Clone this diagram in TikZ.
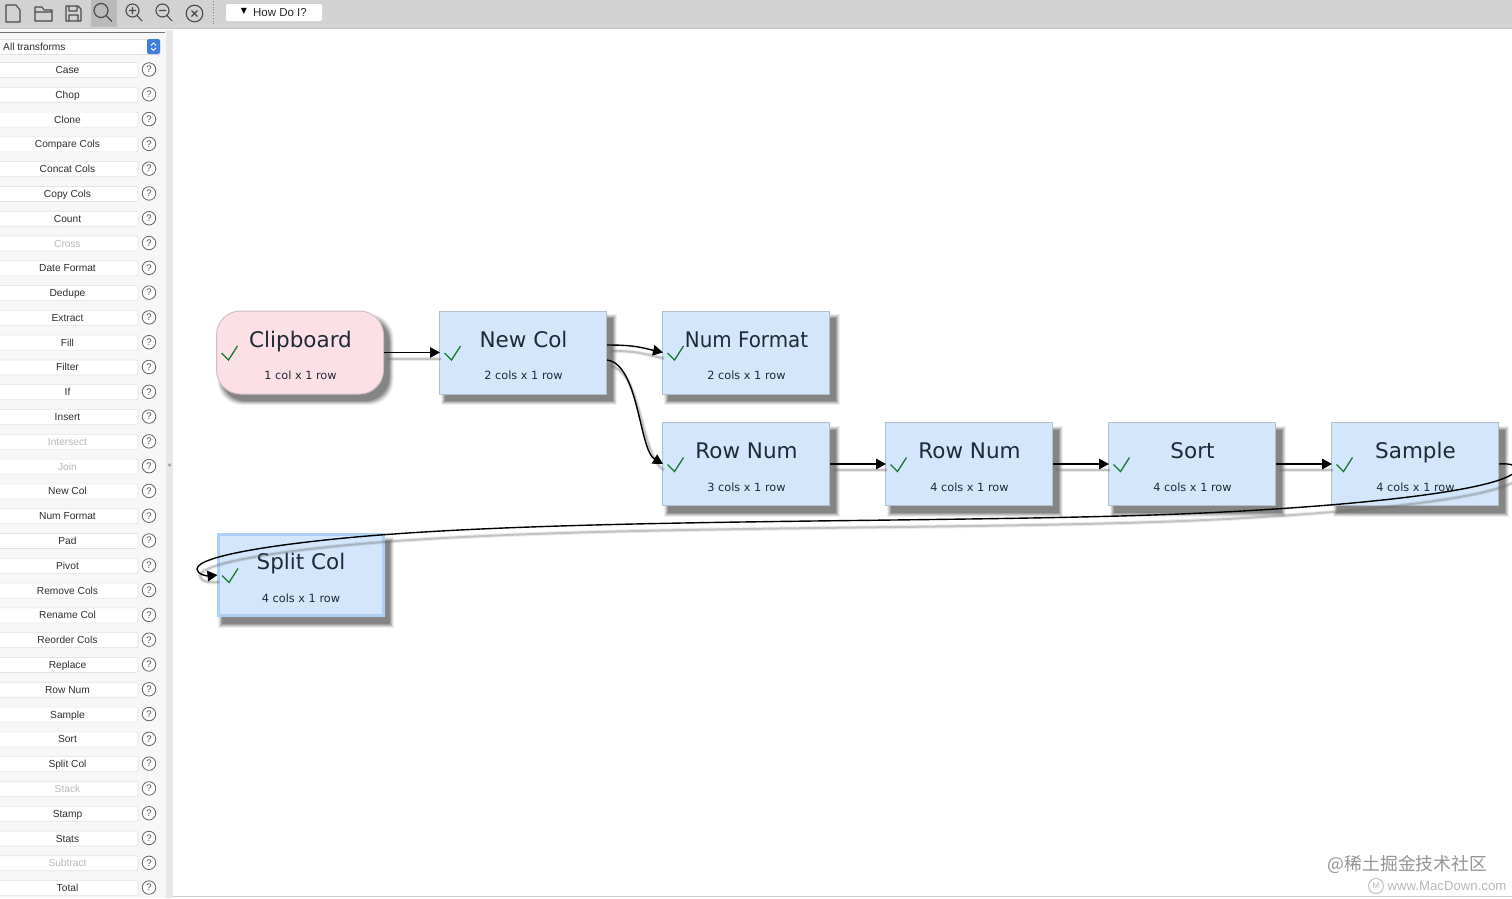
\documentclass[tikz,border=0pt]{standalone}
\usepackage{fontspec}
\setmainfont{DejaVu Sans}
\newfontfamily\uifont{Liberation Sans}
\newfontfamily\cjkfont{Noto Sans CJK SC}
\usetikzlibrary{arrows.meta,calc,shapes.geometric}
\definecolor{barbg}{HTML}{D2D2D2}
\definecolor{boxblue}{HTML}{D3E6FB}
\definecolor{boxline}{HTML}{B4BFCC}
\definecolor{boxpink}{HTML}{FDDFE6}
\definecolor{pinkline}{HTML}{CFC0C6}
\definecolor{splitline}{HTML}{AFCFF3}
\definecolor{checkgreen}{HTML}{167A2B}
\definecolor{inktext}{HTML}{1E2A36}
\definecolor{icon}{HTML}{4A4A4A}
\definecolor{sidebg}{HTML}{F7F7F7}
\definecolor{stepblue}{HTML}{3F7FDB}
\tikzset{
  x=1pt,y=-1pt,
  flowbox/.style={rectangle,draw=boxline,fill=boxblue,line width=1pt,minimum width=167pt,minimum height=83pt,inner sep=0pt},
  pinkbox/.style={flowbox,rounded corners=24pt,draw=pinkline,fill=boxpink},
  selbox/.style={flowbox,draw=splitline,line width=3pt,minimum width=165pt,minimum height=81pt},
  boxtitle/.style={font=\fontsize{21.5}{24}\selectfont,text=inktext,inner sep=0pt,anchor=base},
  boxsub/.style={font=\fontsize{11.3}{13}\selectfont,text=inktext,inner sep=0pt,anchor=base},
  okmark/.style={draw=checkgreen,line width=1.3pt,line join=miter},
  edgeline/.style={draw=black,line width=1.4pt,-{Triangle[length=10pt,width=10.5pt]}},
  edgeshade/.style={draw=black!60,line width=4pt,opacity=.13},
  edgecore/.style={draw=black!60,line width=2pt,opacity=.3},
  sidebtn/.style={rectangle,fill=white,draw=black!11,line width=.6pt,rounded corners=2pt,minimum width=142pt,minimum height=15pt,inner sep=0pt},
  sidetext/.style={font=\uifont\fontsize{10.2}{11}\selectfont,text=black!82,inner sep=0pt,text height=9pt,text depth=2pt},
  helpmark/.style={circle,draw=black!62,line width=.8pt,fill=white,minimum size=13.5pt,inner sep=0pt,font=\uifont\fontsize{9.5}{11}\selectfont,text=black!70},
  iconline/.style={draw=icon,line width=1.1pt,line join=round},
}
% soft shadow behind a box: #1 corner radius, #2 top-left, #3 bottom-right
\newcommand{\softshade}[3]{%
  \fill[black!60,opacity=.10,rounded corners=#1] ($(#2)+(1,3)$) rectangle ($(#3)+(10,11)$);
  \fill[black!60,opacity=.16,rounded corners=#1] ($(#2)+(2,4)$) rectangle ($(#3)+(9,10)$);
  \fill[black!60,opacity=.24,rounded corners=#1] ($(#2)+(3,5)$) rectangle ($(#3)+(8,9)$);
  \fill[black!60,opacity=.32,rounded corners=#1] ($(#2)+(4,6)$) rectangle ($(#3)+(7,8)$);
  \fill[black!60,opacity=.45,rounded corners=#1] ($(#2)+(5,7)$) rectangle ($(#3)+(6,7)$);
}
% flow box: #1 name, #2 style, #3 left, #4 top, #5 title, #6 subtitle, #7 shadow radius
\newcommand{\flowitem}[7]{%
  \softshade{#7}{#3,#4}{#3+167,#4+83}
  \node[#2] (#1) at (#3+83.5,#4+41.5) {};
  \node[boxtitle] (#1title) at (#3+84,#4+36) {#5};
  \node[boxsub] (#1sub) at (#3+84,#4+68.5) {#6};
  \draw[okmark] (#3+5,#4+42) -- (#3+12,#4+49) -- (#3+21,#4+35);
}
% connector with its drop shadow
\newcommand{\flowedge}[3]{%
  \draw[edgeshade] ([shift={(3,6)}]#1) #2 ([shift={(2,6)}]#3);
  \draw[edgecore] ([shift={(3,6)}]#1) #2 ([shift={(2,6)}]#3);
  \draw[edgeline] (#1) #2 ([xshift=1pt]#3);
}
\begin{document}
\begin{tikzpicture}
\useasboundingbox (0,0) rectangle (1512,898);
\begin{scope}
\clip (0,0) rectangle (1512,898);
\fill[white] (0,0) rectangle (1512,898);
% sidebar + splitter
\fill[sidebg] (0,30) rectangle (166,898);
\fill[black!9] (166,30) rectangle (173,898);
\fill[black!35] (169.5,465) circle (1.8);
\draw[black!20,line width=.8pt] (173,896.5) -- (1512,896.5);
% toolbar
\fill[barbg] (0,0) rectangle (1512,28);
\draw[black!22,line width=.8pt] (0,28.5) -- (1512,28.5);
\draw[black!55,line width=1pt] (0,32) -- (165,32);
\fill[black!27] (91,0) rectangle (117,27);
% new file
\draw[iconline] (6,5) -- (16,5) -- (20,10) -- (20,22) -- (6,22) -- cycle;
% folder
\draw[iconline] (35,21) -- (35,7) -- (42,7) -- (44,10) -- (52,10) -- (52,21) -- cycle (35,12) -- (52,12);
% save
\draw[iconline] (66,6) -- (78,6) -- (81,9) -- (81,21) -- (66,21) -- cycle (69,6) -- (69,11) -- (77,11) -- (77,6) (69,21) -- (69,15) -- (78,15) -- (78,21);
% search
\draw[iconline,line width=1.2pt] (101,10.5) circle (7) (106,15.5) -- (112,21.5);
\draw[iconline] (132.5,10.5) circle (6.5) (137,15.5) -- (142,21) (129,10.5) -- (136,10.5) (132.5,7) -- (132.5,14);
\draw[iconline] (162.5,10.5) circle (6.5) (167,15.5) -- (172,21) (159,10.5) -- (166,10.5);
\draw[iconline] (194.5,13.5) circle (8.3) (191.5,10.5) -- (197.5,16.5) (197.5,10.5) -- (191.5,16.5);
\draw[black!50,line width=.8pt,dotted] (213,1) -- (213,26);
\node[rectangle,fill=white,rounded corners=2pt,minimum width=96pt,minimum height=17pt,inner sep=0pt] (howdoi) at (274,12.5) {};
\node[font=\fontsize{8}{10}\selectfont,inner sep=0pt] (howarrow) at (244,11) {▼};
\node[font=\uifont\fontsize{11.5}{13}\selectfont,text=black!85,inner sep=0pt] (howtext) at (280,12.5) {How Do I?};
% combo
\node[rectangle,fill=white,draw=black!12,line width=.6pt,rounded corners=2pt,minimum width=162pt,minimum height=15pt,inner sep=0pt] (combo) at (79,47) {};
\node[sidetext,anchor=west] (combotext) at (3,47) {All transforms};
\node[rectangle,fill=stepblue,rounded corners=2pt,minimum width=13pt,minimum height=15pt,inner sep=0pt] (stepper) at (153.5,46.5) {};
\draw[white,line width=.8pt] (151,45.5) -- (153.5,43) -- (156,45.5) (151,48) -- (153.5,50.5) -- (156,48);
% transforms
\foreach \lab/\shade [count=\i from 0] in {Case/82,Chop/82,Clone/82,Compare Cols/82,Concat Cols/82,Copy Cols/82,Count/82,Cross/28,Date Format/82,Dedupe/82,Extract/82,Fill/82,Filter/82,If/82,Insert/82,Intersect/28,Join/28,New Col/82,Num Format/82,Pad/82,Pivot/82,Remove Cols/82,Rename Col/82,Reorder Cols/82,Replace/82,Row Num/82,Sample/82,Sort/82,Split Col/82,Stack/28,Stamp/82,Stats/82,Subtract/28,Total/82} {
  \pgfmathsetmacro{\yy}{70+24.79*\i}
  \node[sidebtn] (btn\i) at (67,\yy) {};
  \node[sidetext,text=black!\shade] (btntext\i) at (67.5,\yy) {\lab};
  \node[helpmark] (help\i) at (149,\yy-.5) {?};
}
% boxes
\flowitem{clip}{pinkbox}{216.5}{311}{Clipboard}{1 col x 1 row}{24pt}
\flowitem{newcol}{flowbox}{439.5}{311}{New Col}{2 cols x 1 row}{0pt}
\flowitem{numfmt}{flowbox}{662.5}{311}{\scalebox{.925}[1]{Num Format}}{2 cols x 1 row}{0pt}
\flowitem{rownuma}{flowbox}{662.5}{422.5}{Row Num}{3 cols x 1 row}{0pt}
\flowitem{rownumb}{flowbox}{885.5}{422.5}{Row Num}{4 cols x 1 row}{0pt}
\flowitem{sortbox}{flowbox}{1108.5}{422.5}{Sort}{4 cols x 1 row}{0pt}
\flowitem{sample}{flowbox}{1331.5}{422.5}{Sample}{4 cols x 1 row}{0pt}
\flowitem{split}{selbox}{217}{533.5}{Split Col}{4 cols x 1 row}{0pt}
% connectors
\coordinate (newcolup) at ($(newcol.east)+(0,-7.5)$);
\coordinate (newcoldown) at ($(newcol.east)+(0,7.5)$);
\flowedge{clip.east}{--}{newcol.west}
\flowedge{newcolup}{.. controls +(28,0) and +(-22,-5) ..}{numfmt.west}
\flowedge{newcoldown}{.. controls +(32,4) and +(-24,-14) ..}{rownuma.west}
\flowedge{rownuma.east}{--}{rownumb.west}
\flowedge{rownumb.east}{--}{sortbox.west}
\flowedge{sortbox.east}{--}{sample.west}
\coordinate (loopa) at (1516,471);
\coordinate (loopb) at (1180,514);
\coordinate (loopc) at (380,535);
\coordinate (loopd) at (197,569);
\coordinate (shadea) at (1519,478);
\coordinate (shadeb) at (1183,521);
\coordinate (shadec) at (383,542);
\coordinate (shaded) at (200,576);
\draw[edgeshade] (shadea) .. controls (1503,498) and (1353,514) .. (shadeb) .. controls (953,530) and (603,525) .. (shadec) .. controls (293,549) and (200,562) .. (shaded) .. controls (200,582) and (211,583) .. ([shift={(3,7)}]split.west);
\draw[edgecore] (shadea) .. controls (1503,498) and (1353,514) .. (shadeb) .. controls (953,530) and (603,525) .. (shadec) .. controls (293,549) and (200,562) .. (shaded) .. controls (200,582) and (211,583) .. ([shift={(3,7)}]split.west);
\draw[edgeline] (sample.east) .. controls (1511,463) and (1519,466) .. (loopa)
  .. controls (1500,491) and (1350,507) .. (loopb)
  .. controls (950,523) and (600,518) .. (loopc)
  .. controls (290,542) and (197,555) .. (loopd)
  .. controls (197,575) and (208,576) .. ([xshift=1pt]split.west);
% watermark
\node[font=\cjkfont\fontsize{17.8}{20}\selectfont,text=black!42,inner sep=0pt] (wmark) at (1407.5,864.5) {@稀土掘金技术社区};
\node[circle,draw=black!25,line width=1pt,minimum size=15pt,inner sep=0pt,font=\uifont\fontsize{8}{10}\selectfont,text=black!30] (wmicon) at (1376,886) {M};
\node[font=\uifont\fontsize{13.2}{15}\selectfont,text=black!28,inner sep=0pt] (wmurl) at (1447,886.5) {www.MacDown.com};
\end{scope}
\end{tikzpicture}
\end{document}
